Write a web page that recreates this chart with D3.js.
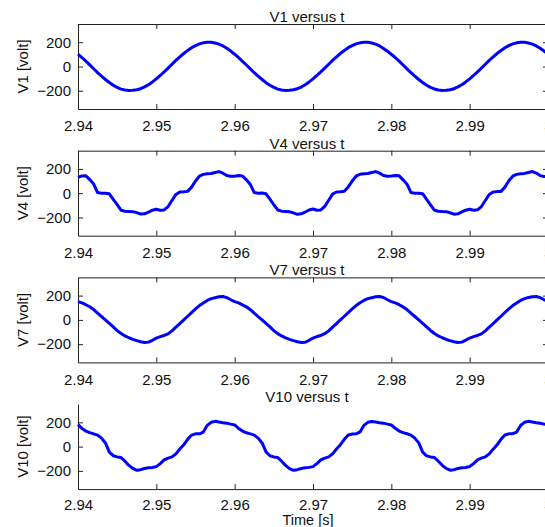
<!DOCTYPE html>
<html>
<head>
<meta charset="utf-8">
<script src="https://cdn.jsdelivr.net/npm/d3@7"></script>
<style>
html,body{margin:0;padding:0;background:#fff;}
svg{display:block;}
text{font-family:"Liberation Sans",Arial,sans-serif;fill:#111;}
</style>
</head>
<body>
<script>
// ---- data (sampled every 0.5 ms from 2.94 s to 3.00 s) ----
const tStart = 2.94, tStep = 0.0005;
const xTicks = [2.94, 2.95, 2.96, 2.97, 2.98, 2.99, 3.00];
const yTicks = [-200, 0, 200];
const titles = ["V1 versus t", "V4 versus t", "V7 versus t", "V10 versus t"];
const yLabels = ["V1 [volt]", "V4 [volt]", "V7 [volt]", "V10 [volt]"];

const v1 = [
 102,74,44,13,-19,-50,-79,-107,-132,-154,-172,-186,-194,-197,-196,-192,-183,-168,-150,-127,
 -102,-74,-44,-13,19,50,79,107,132,154,172,186,195,200,199,194,184,169,150,127,
 101,73,43,12,-19,-51,-80,-107,-133,-154,-172,-186,-194,-197,-196,-192,-183,-169,-150,-127,
 -102,-73,-44,-13,19,50,80,107,132,155,172,186,195,199,200,194,184,169,149,126,
 101,74,44,12,-19,-50,-79,-107,-132,-154,-172,-185,-194,-197,-196,-192,-183,-168,-150,-127,
 -102,-74,-44,-13,19,50,79,107,132,154,172,186,195,200,199,194,184,169,150,127,
 102];

const v4 = [
 130,142,144,112,75,5,0,0,-5,-50,-95,-140,-148,-150,-152,-160,-172,-170,-155,-140,
 -132,-140,-138,-110,-60,-10,10,12,15,50,100,140,155,160,162,170,178,165,145,140,
 140,145,142,110,72,5,0,2,-5,-48,-95,-138,-148,-150,-153,-162,-174,-170,-155,-138,
 -130,-140,-138,-108,-58,-8,10,12,16,52,100,140,156,160,162,170,178,165,146,140,
 142,145,143,110,74,6,0,0,-4,-50,-96,-140,-148,-151,-152,-161,-173,-170,-154,-140,
 -132,-140,-137,-110,-60,-10,10,13,15,50,102,140,155,160,163,171,178,166,145,138,
 135];

const v7 = [
 150,140,125,108,85,55,28,0,-28,-58,-88,-112,-132,-147,-160,-171,-180,-186,-183,-168,
 -150,-138,-128,-115,-90,-60,-30,0,30,60,90,118,140,160,175,183,190,193,183,166,
 150,140,124,108,84,55,27,0,-29,-58,-88,-113,-132,-148,-160,-171,-180,-186,-184,-168,
 -150,-137,-128,-114,-90,-60,-30,1,30,60,90,118,141,160,175,183,190,193,184,166,
 151,140,125,107,85,56,28,0,-28,-58,-87,-112,-132,-147,-161,-171,-180,-186,-183,-167,
 -150,-138,-128,-115,-90,-59,-30,0,30,61,90,118,140,160,175,184,190,193,183,166,
 150];

const v10 = [
 182,150,128,115,105,95,70,30,-45,-75,-85,-90,-120,-155,-180,-195,-190,-180,-175,-172,
 -165,-140,-110,-95,-85,-60,-20,15,60,95,105,105,120,175,200,208,203,197,193,185,
 178,150,128,114,105,95,70,30,-44,-75,-85,-90,-121,-155,-181,-195,-190,-180,-175,-171,
 -165,-140,-110,-95,-85,-60,-20,16,60,95,104,105,121,175,200,207,203,197,193,185,
 178,151,128,115,106,95,70,31,-45,-76,-85,-90,-120,-154,-180,-194,-190,-180,-175,-172,
 -164,-140,-110,-95,-84,-60,-21,15,60,96,105,106,120,174,200,208,203,197,192,185,
 178];

const series = [v1, v4, v7, v10];

// ---- layout ----
const W = 545, H = 527;
const left = 78, right = 548;
const firstTop = 24, panelStep = 126.7, panelH = 85;

const svg = d3.select("body").append("svg").attr("width", W).attr("height", H);

const x = d3.scaleLinear().domain([2.94, 3.00]).range([left, right]);
const fmt = d => String(+d.toFixed(2));

series.forEach((vals, i) => {
  const top = firstTop + i * panelStep;
  const bottom = top + panelH;
  const y = d3.scaleLinear().domain([-350, 350]).range([bottom, top]);
  const boxed = i < 3;
  const g = svg.append("g");

  // bottom axis
  g.append("g").attr("transform", `translate(0,${bottom})`)
    .call(d3.axisBottom(x).tickValues(xTicks).tickFormat(fmt)
      .tickSizeInner(-5).tickSizeOuter(0).tickPadding(boxed ? 11.5 : 10));
  // left axis
  g.append("g").attr("transform", `translate(${left},0)`)
    .call(d3.axisLeft(y).tickValues(yTicks)
      .tickSizeInner(-5).tickSizeOuter(0).tickPadding(7));
  if (boxed) {
    g.append("g").attr("transform", `translate(0,${top})`)
      .call(d3.axisTop(x).tickValues(xTicks).tickFormat("")
        .tickSizeInner(-5).tickSizeOuter(0));
    g.append("g").attr("transform", `translate(${right},0)`)
      .call(d3.axisRight(y).tickValues(yTicks).tickFormat("")
        .tickSizeInner(-5).tickSizeOuter(0));
  }
  g.selectAll(".domain, .tick line").attr("stroke", "#222");
  g.selectAll(".tick text").attr("font-size", 15)
    .attr("font-family", '"Liberation Sans",Arial,sans-serif').attr("fill", "#111");

  // line
  const line = d3.line()
    .x((d, k) => x(tStart + k * tStep))
    .y(d => y(d));
  g.append("path").datum(vals)
    .attr("fill", "none").attr("stroke", "#0000ff")
    .attr("stroke-width", 3).attr("stroke-linejoin", "round")
    .attr("d", line);

  // title
  g.append("text").attr("x", 307).attr("y", top - 2)
    .attr("text-anchor", "middle").attr("font-size", 15).text(titles[i]);

  // y label
  g.append("text")
    .attr("transform", `translate(28,${(top + bottom) / 2}) rotate(-90)`)
    .attr("text-anchor", "middle").attr("font-size", 15).text(yLabels[i]);
});

// x label
svg.append("text").attr("x", 308).attr("y", 525)
  .attr("text-anchor", "middle").attr("font-size", 14.5).text("Time [s]");
</script>
</body>
</html>
